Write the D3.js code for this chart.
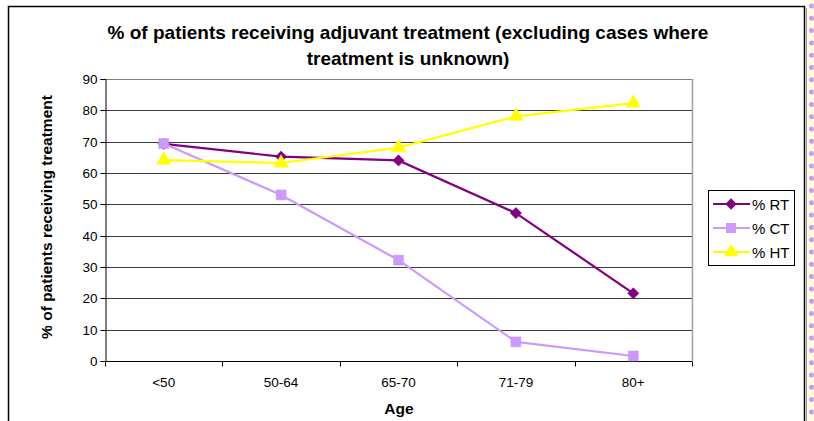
<!DOCTYPE html>
<html>
<head>
<meta charset="utf-8">
<script src="https://cdn.jsdelivr.net/npm/d3@7"></script>
<style>
  html, body { margin: 0; padding: 0; background: #fff; }
  svg { display: block; font-family: Arial, "Liberation Sans", sans-serif; }
</style>
</head>
<body>
<svg id="chart" width="814" height="421"></svg>
<script>
const categories = ["<50", "50-64", "65-70", "71-79", "80+"];
const seriesNames = ["% RT", "% CT", "% HT"];
const rtValues = [69.3, 65.2, 64.0, 47.2, 21.6];
const ctValues = [69.4, 53.0, 32.2, 6.1, 1.6];
const htValues = [64.1, 63.2, 68.1, 78.1, 82.3];
const yTicks = [0, 10, 20, 30, 40, 50, 60, 70, 80, 90];
const titleLines = ["% of patients receiving adjuvant treatment (excluding cases where", "treatment is unknown)"];

// square diamond (equal width and height)
const symbolSquareDiamond = {
  draw(context, size) {
    const r = Math.sqrt(size / 2);
    context.moveTo(0, -r);
    context.lineTo(r, 0);
    context.lineTo(0, r);
    context.lineTo(-r, 0);
    context.closePath();
  }
};

const series = [
  { name: seriesNames[0], values: rtValues, color: "#800080", symbol: symbolSquareDiamond, size: 64 },
  { name: seriesNames[1], values: ctValues, color: "#CC99FF", symbol: d3.symbolSquare, size: 100 },
  { name: seriesNames[2], values: htValues, color: "#FFFF00", symbol: d3.symbolTriangle, size: 90 }
];

const svg = d3.select("#chart");

// page-edge decoration on the right
svg.append("rect").attr("x", 807).attr("y", 0).attr("width", 7).attr("height", 421).attr("fill", "#fffbe0");
svg.append("line").attr("x1", 811.5).attr("x2", 811.5).attr("y1", 6).attr("y2", 421)
  .attr("stroke", "#c79bf2").attr("stroke-width", 5).attr("stroke-linecap", "round")
  .attr("stroke-dasharray", "0 12.3");

// chart border
svg.append("path").attr("d", "M8.5,425 V6.5 H804.5 V425")
  .attr("fill", "none").attr("stroke", "#000").attr("stroke-width", 1.5);
svg.append("line").attr("x1", 806.5).attr("x2", 806.5).attr("y1", 8).attr("y2", 421)
  .attr("stroke", "#999").attr("stroke-width", 1);

const plot = { left: 105, right: 692, top: 79, bottom: 361 };

const x = d3.scaleBand().domain(categories).range([plot.left, plot.right]).padding(0);
const y = d3.scaleLinear().domain([0, 90]).range([plot.bottom, plot.top]);

// gridlines
svg.append("g").selectAll("line").data(yTicks.filter(t => t > 0)).join("line")
  .attr("x1", plot.left).attr("x2", plot.right)
  .attr("y1", d => Math.round(y(d)) + 0.5).attr("y2", d => Math.round(y(d)) + 0.5)
  .attr("stroke", d => d === 90 ? "#808080" : "#3a3a3a").attr("stroke-width", 1);

// plot area right border
svg.append("line").attr("x1", plot.right + 0.5).attr("x2", plot.right + 0.5)
  .attr("y1", plot.top).attr("y2", plot.bottom).attr("stroke", "#a0a0a0").attr("stroke-width", 1.5);

// y axis
const yAxis = d3.axisLeft(y).tickValues(yTicks).tickSize(5).tickPadding(3);
const gy = svg.append("g").attr("transform", `translate(${plot.left + 0.5},0)`).call(yAxis);
gy.select(".domain").attr("stroke", "#000");
gy.selectAll(".tick line").attr("stroke", "#000");
gy.selectAll(".tick text").attr("font-size", 13.5).attr("fill", "#000")
  .attr("font-family", "Arial, 'Liberation Sans', sans-serif");
gy.selectAll(".tick").attr("transform", d => `translate(0,${Math.round(y(d)) + 0.5})`);

// x axis
const gx = svg.append("g").attr("transform", `translate(0,${plot.bottom + 0.5})`);
gx.append("line").attr("x1", plot.left).attr("x2", plot.right).attr("stroke", "#000");
const boundaries = categories.map(c => x(c)).concat([x(categories[categories.length - 1]) + x.bandwidth()]);
gx.selectAll("line.tk").data(boundaries).join("line").attr("class", "tk")
  .attr("x1", d => Math.round(d) + 0.5).attr("x2", d => Math.round(d) + 0.5)
  .attr("y1", 0).attr("y2", 5).attr("stroke", "#000");
gx.selectAll("text").data(categories).join("text")
  .attr("x", d => x(d) + x.bandwidth() / 2).attr("y", 25)
  .attr("text-anchor", "middle").attr("font-size", 13.5).attr("fill", "#000").text(d => d);

// lines and markers
const line = d3.line().x((d, i) => x(categories[i]) + x.bandwidth() / 2).y(d => y(d));
series.forEach(s => {
  svg.append("path").datum(s.values).attr("d", line)
    .attr("fill", "none").attr("stroke", s.color).attr("stroke-width", 2.2);
});
series.forEach(s => {
  svg.append("g").selectAll("path").data(s.values).join("path")
    .attr("transform", (d, i) => `translate(${x(categories[i]) + x.bandwidth() / 2},${y(d)})`)
    .attr("d", d3.symbol().type(s.symbol).size(s.size))
    .attr("fill", s.color).attr("stroke", s.color).attr("stroke-width", 0.5);
});

// titles
svg.append("g").selectAll("text").data(titleLines).join("text")
  .attr("x", 408).attr("y", (d, i) => 39 + i * 26)
  .attr("text-anchor", "middle").attr("font-size", 19).attr("font-weight", "bold").text(d => d);

svg.append("text").attr("transform", "translate(52,217) rotate(-90)")
  .attr("text-anchor", "middle").attr("font-size", 15.5).attr("font-weight", "bold")
  .text("% of patients receiving treatment");

svg.append("text").attr("x", 399).attr("y", 414)
  .attr("text-anchor", "middle").attr("font-size", 15.5).attr("font-weight", "bold").text("Age");

// legend
const lg = svg.append("g");
lg.append("rect").attr("x", 708.5).attr("y", 190.5).attr("width", 86).attr("height", 75)
  .attr("fill", "#fff").attr("stroke", "#000").attr("stroke-width", 1);
series.forEach((s, i) => {
  const cy = 204 + i * 24;
  lg.append("line").attr("x1", 713).attr("x2", 750).attr("y1", cy).attr("y2", cy)
    .attr("stroke", s.color).attr("stroke-width", 2.2);
  lg.append("path").attr("transform", `translate(731,${cy})`)
    .attr("d", d3.symbol().type(s.symbol).size(s.size)).attr("fill", s.color);
  lg.append("text").attr("x", 752).attr("y", cy + 5.5).attr("font-size", 15).text(s.name);
});
</script>
</body>
</html>
